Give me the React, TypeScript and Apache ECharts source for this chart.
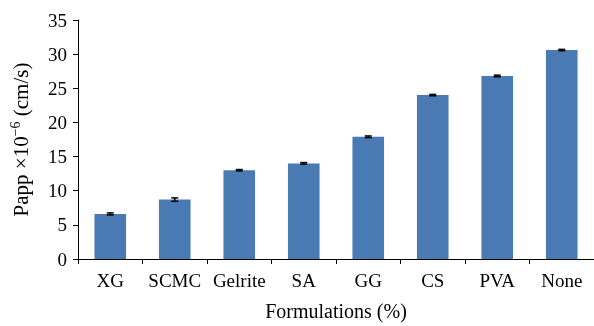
import React, { useEffect, useRef } from "react";
import * as echarts from "echarts";

const categories = ["XG", "SCMC", "Gelrite", "SA", "GG", "CS", "PVA", "None"];
const values = [6.6, 8.7, 13.0, 14.0, 17.9, 24.0, 26.8, 30.6];
const errors = [0.15, 0.25, 0.1, 0.12, 0.12, 0.1, 0.12, 0.1];
const yTicks = { min: 0, max: 35, interval: 5 };

const FONT = "'Liberation Serif', 'Times New Roman', serif";

export default function App() {
  const ref = useRef<HTMLDivElement>(null);
  useEffect(() => {
    if (!ref.current) return;
    const chart = echarts.init(ref.current, null, { renderer: "svg" });
    const errData = values.map((v, i) => [i, v - errors[i], v + errors[i]]);
    chart.setOption({
      animation: false,
      grid: { left: 77, top: 20, width: 524, height: 243, containLabel: false },
      xAxis: {
        type: "category",
        data: categories,
        name: "Formulations (%)",
        nameLocation: "middle",
        nameGap: 42,
        nameTextStyle: { fontFamily: FONT, fontSize: 20, color: "#000" },
        axisLine: { lineStyle: { color: "#000", width: 1 } },
        axisTick: { show: true, length: 5, lineStyle: { color: "#000" } },
        axisLabel: { fontFamily: FONT, fontSize: 19, color: "#000", margin: 12, interval: 0 },
      },
      yAxis: {
        type: "value",
        min: yTicks.min,
        max: yTicks.max,
        interval: yTicks.interval,
        name: "{a|Papp ×10}{s|−6}{a| (cm/s)}",
        nameLocation: "middle",
        nameGap: 44,
        nameRotate: 90,
        nameTextStyle: {
          fontFamily: FONT,
          fontSize: 21,
          color: "#000",
          rich: {
            a: { fontFamily: FONT, fontSize: 21, color: "#000" },
            s: { fontFamily: FONT, fontSize: 14, color: "#000", verticalAlign: "top", padding: [0, 0, 12, 0] },
          },
        },
        splitLine: { show: false },
        axisLine: { show: true, lineStyle: { color: "#000", width: 1 } },
        axisTick: { show: true, length: 5, lineStyle: { color: "#000" } },
        axisLabel: { fontFamily: FONT, fontSize: 19, color: "#000", margin: 11 },
      },
      series: [
        {
          type: "bar",
          data: values,
          barWidth: "49%",
          itemStyle: { color: "#4a7ab4" },
        },
        {
          type: "custom",
          data: errData,
          z: 10,
          renderItem: (params: any, api: any) => {
            const x = api.value(0);
            const lo = api.coord([x, api.value(1)]);
            const hi = api.coord([x, api.value(2)]);
            const hw = 3.5;
            const style = { stroke: "#000", lineWidth: 1.5 };
            return {
              type: "group",
              children: [
                { type: "line", shape: { x1: lo[0], y1: lo[1], x2: hi[0], y2: hi[1] }, style },
                { type: "line", shape: { x1: lo[0] - hw, y1: lo[1], x2: lo[0] + hw, y2: lo[1] }, style },
                { type: "line", shape: { x1: hi[0] - hw, y1: hi[1], x2: hi[0] + hw, y2: hi[1] }, style },
              ],
            };
          },
        },
      ],
    });
    return () => chart.dispose();
  }, []);
  return <div ref={ref} style={{ position: "fixed", left: 0, top: 0, width: 594, height: 326 }} />;
}
